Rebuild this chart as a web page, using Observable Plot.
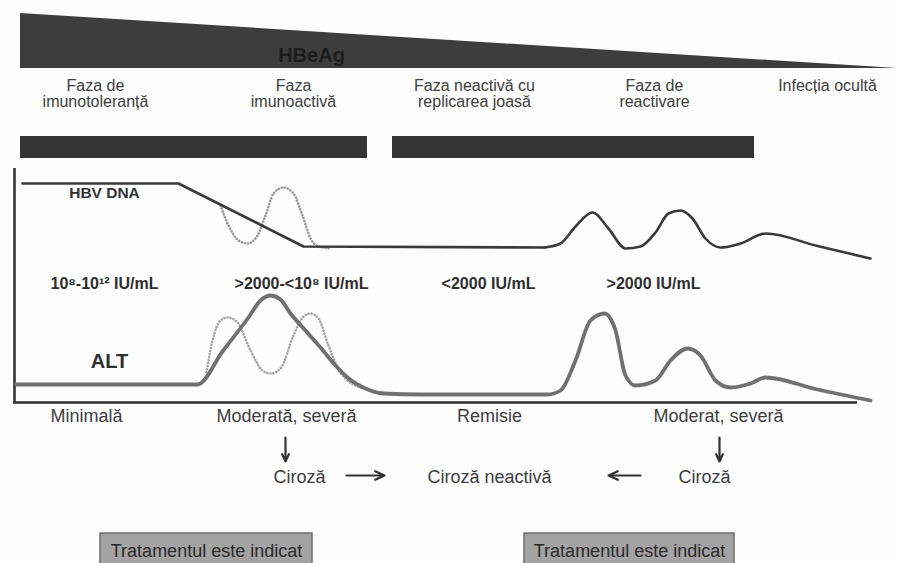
<!DOCTYPE html>
<html>
<head>
<meta charset="utf-8">
<script src="https://cdn.jsdelivr.net/npm/d3@7"></script>
<script src="https://cdn.jsdelivr.net/npm/@observablehq/plot@0.6"></script>
<style>
  html, body { margin: 0; padding: 0; background: #fdfdfd; }
  #chart svg { display: block; }
</style>
</head>
<body>
<div id="chart"></div>
<script>
// ---- Data read from the schematic (t = time axis, v = level, top = 0) ----
const hbeagT = [20, 897];
const hbeagTop = [13, 68];
const hbeagBottom = [68, 68];

const phaseNames = ["Faza de\nimunotoleranță", "Faza\nimunoactivă", "Faza neactivă cu\nreplicarea joasă", "Faza de\nreactivare", "Infecția ocultă"];
const phaseT = [95, 293, 474, 654, 827];

const phaseBarStart = [20, 392];
const phaseBarEnd = [367, 754];

const dnaSolidT = [22, 178, 303, 544, 560, 575, 592, 608, 625, 640, 655, 668, 680, 692, 705, 720, 740, 765, 817, 870];
const dnaSolidV = [183, 183, 246, 247, 243, 226, 212, 228, 248, 246, 232, 213, 210, 218, 238, 247, 243, 233, 245.5, 258];

const dnaDotT = [220, 228, 238, 247, 257, 265, 273, 283, 293, 302, 310, 318, 330];
const dnaDotV = [205, 225, 240, 243, 235, 215, 193, 187, 193, 215, 238, 246, 248];

const altSolidT = [16, 197, 222, 248, 260, 270, 280, 290, 305, 320, 335, 347, 365, 383, 420, 547, 560, 575, 590, 604, 615, 625, 635, 655, 670, 687, 700, 715, 730, 750, 765, 817, 870];
const altSolidV = [384, 384, 351, 317, 300, 295, 299, 313, 330, 347, 365, 377, 388, 393, 394, 394, 390, 360, 320, 313, 330, 375, 385, 380, 360, 348, 355, 380, 387, 383, 377, 389, 400];

const altDotT = [206, 212, 220, 227, 237, 250, 262, 270, 280, 293, 303, 310, 318, 328, 340, 360, 390];
const altDotV = [372, 340, 320, 317, 322, 350, 370, 373, 368, 335, 316, 313, 318, 345, 372, 387, 393];

const dnaLevelLabels = ["10⁸-10¹² IU/mL", ">2000-<10⁸ IU/mL", "<2000 IU/mL", ">2000 IU/mL"];
const dnaLevelT = [104, 301, 488, 653];

const liverLabels = ["Minimală", "Moderată, severă", "Remisie", "Moderat, severă"];
const liverT = [86, 286, 489, 718];

const cirrhosisLabels = ["Ciroză", "Ciroză neactivă", "Ciroză"];
const cirrhosisT = [299, 489, 704];

const treatStart = [100, 524];
const treatEnd = [312, 734];
const treatLabel = "Tratamentul este indicat";

// ---- Build tables ----
const zip = (ts, vs) => ts.map((t, i) => ({t, v: vs[i]}));
const hbeag = hbeagT.map((t, i) => ({t, top: hbeagTop[i], bottom: hbeagBottom[i]}));
const phases = phaseNames.map((name, i) => ({name, t: phaseT[i]}));
const bars = phaseBarStart.map((s, i) => ({s, e: phaseBarEnd[i]}));
const dnaRamp = zip(dnaSolidT.slice(0, 4), dnaSolidV.slice(0, 4));
const dnaPeaks = zip(dnaSolidT.slice(3), dnaSolidV.slice(3));
const dnaDot = zip(dnaDotT, dnaDotV);
const altSolid = zip(altSolidT, altSolidV);
const altDot = zip(altDotT, altDotV);
const dnaLevels = dnaLevelLabels.map((label, i) => ({label, t: dnaLevelT[i]}));
const liver = liverLabels.map((label, i) => ({label, t: liverT[i]}));
const cirr = cirrhosisLabels.map((label, i) => ({label, t: cirrhosisT[i]}));
const treat = treatStart.map((s, i) => ({s, e: treatEnd[i], label: treatLabel}));

const font = "Liberation Sans, Arial, sans-serif";
const textCol = "#3d3d3d";

const chart = Plot.plot({
  width: 897,
  height: 563,
  margin: 0,
  style: {background: "#fdfdfd", fontFamily: font},
  x: {domain: [0, 897], range: [0, 897], axis: null},
  y: {domain: [0, 563], range: [0, 563], axis: null},
  marks: [
    // HBeAg decreasing wedge
    Plot.areaY(hbeag, {x: "t", y1: "top", y2: "bottom", fill: "#3d3d3d"}),
    Plot.text(["HBeAg"], {x: 311, y: 55, text: d => d, fill: "#1c1c1c", fontSize: 20, fontWeight: "bold", ariaLabel: "hbeag-label"}),
    // phase labels
    Plot.text(phases, {x: "t", y: 79, text: "name", lineAnchor: "top", fill: textCol, fontSize: 16, lineHeight: 1.0, ariaLabel: "phase-labels"}),
    // phase bars
    Plot.rect(bars, {x1: "s", x2: "e", y1: 136, y2: 158, fill: "#333"}),
    // axes
    Plot.ruleX([14], {y1: 168, y2: 403, stroke: "#2e2e2e", strokeWidth: 2.5}),
    Plot.ruleY([402], {x1: 13, x2: 857, stroke: "#2e2e2e", strokeWidth: 2.5}),
    // HBV DNA
    Plot.line(dnaDot, {x: "t", y: "v", curve: "monotone-x", stroke: "#9a9a9a", strokeWidth: 2.6, strokeDasharray: "0.1,3", strokeLinecap: "round"}),
    Plot.line(dnaRamp, {x: "t", y: "v", stroke: "#3a3a3a", strokeWidth: 2.6}),
    Plot.line(dnaPeaks, {x: "t", y: "v", curve: "monotone-x", stroke: "#3a3a3a", strokeWidth: 2.6}),
    Plot.text(["HBV DNA"], {x: 104, y: 193, text: d => d, fill: "#333", fontSize: 15.5, fontWeight: "bold", ariaLabel: "dna-label"}),
    // DNA level labels
    Plot.text(dnaLevels, {x: "t", y: 283, text: "label", fill: "#2e2e2e", fontSize: 16, fontWeight: "bold", ariaLabel: "level-labels"}),
    // ALT
    Plot.line(altDot, {x: "t", y: "v", curve: "monotone-x", stroke: "#a5a5a5", strokeWidth: 2.6, strokeDasharray: "0.1,3", strokeLinecap: "round"}),
    Plot.line(altSolid, {x: "t", y: "v", curve: "monotone-x", stroke: "#707070", strokeWidth: 3.8}),
    Plot.text(["ALT"], {x: 109, y: 361, text: d => d, fill: "#2e2e2e", fontSize: 20, fontWeight: "bold"}),
    // liver disease
    Plot.text(liver, {x: "t", y: 416, text: "label", fill: textCol, fontSize: 18}),
    Plot.arrow([{x: 285}, {x: 719}], {x1: "x", x2: "x", y1: 437, y2: 461, stroke: "#333", strokeWidth: 2.2, headLength: 7, headAngle: 50}),
    Plot.text(cirr, {x: "t", y: 477, text: "label", fill: textCol, fontSize: 18}),
    Plot.arrow([{a: 346, b: 384}, {a: 640, b: 608}], {x1: "a", x2: "b", y1: 475, y2: 475, stroke: "#333", strokeWidth: 2.2, headLength: 7, headAngle: 50}),
    // treatment boxes
    Plot.rect(treat, {x1: "s", x2: "e", y1: 533, y2: 566, fill: "#a3a3a3", stroke: "#6d6d6d", strokeWidth: 1.5}),
    Plot.text(treat, {x: d => (d.s + d.e) / 2, y: 551, text: "label", fill: "#2a2a2a", fontSize: 18})
  ]
});
// widen letter spacing where the reference text is stretched
d3.select(chart).selectAll('g[aria-label="phase-labels"]').style("letter-spacing", "0.8px");
d3.select(chart).selectAll('g[aria-label="level-labels"]').style("letter-spacing", "0.7px");
d3.select(chart).selectAll('g[aria-label="dna-label"]').style("letter-spacing", "1.1px");
document.getElementById("chart").appendChild(chart);
</script>
</body>
</html>
